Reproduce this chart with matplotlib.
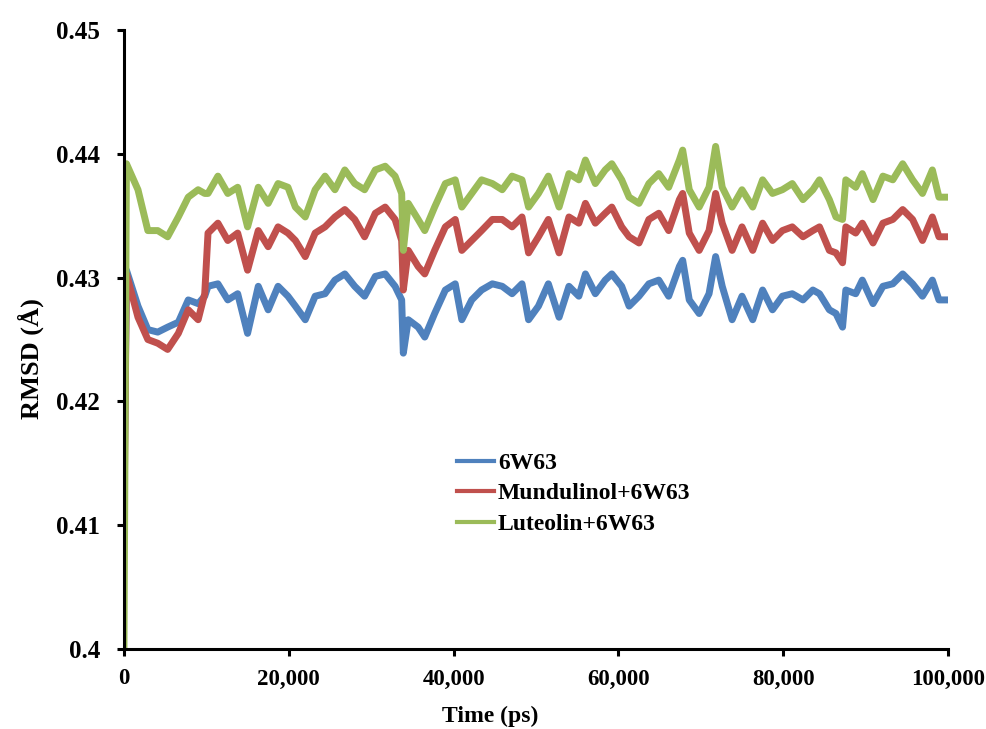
import matplotlib.pyplot as plt
from matplotlib.ticker import FuncFormatter

# Time axis (ps), shared by all three runs
time_ps = [0, 300, 1700, 2900, 4100, 5300, 6600, 7800, 9000, 9800, 10200, 11400, 12600,
           13800, 15000, 16300, 17500, 18700, 19900, 20800, 22000, 23200, 24400, 25600,
           26800, 28000, 29200, 30500, 31700, 32900, 33700, 33900, 34500, 35700, 36500,
           37700, 39000, 40200, 41000, 42200, 43400, 44700, 45900, 47100, 48300, 49100,
           50300, 51500, 52800, 54000, 55200, 56000, 57200, 58400, 59200, 60400, 61300,
           62500, 63700, 64900, 66100, 67400, 67800, 68600, 69800, 71000, 71800, 72600,
           73800, 75000, 76300, 77500, 78700, 79900, 81100, 82400, 83600, 84400, 85600,
           86400, 87200, 87600, 88800, 89600, 90900, 92100, 93300, 94500, 95700, 96900,
           98100, 98900, 100000]

rmsd_6w63 = [0.4120, 0.4306, 0.4277, 0.4258, 0.4256, 0.4260, 0.4264, 0.4282, 0.4279, 0.4285,
             0.4293, 0.4295, 0.4282, 0.4287, 0.4255, 0.4293, 0.4274, 0.4293, 0.4285, 0.4277,
             0.4266, 0.4285, 0.4287, 0.4298, 0.4303, 0.4293, 0.4285, 0.4301, 0.4303, 0.4293,
             0.4282, 0.4239, 0.4266, 0.4260, 0.4252, 0.4271, 0.4290, 0.4295, 0.4266, 0.4282,
             0.4290, 0.4295, 0.4293, 0.4287, 0.4295, 0.4266, 0.4277, 0.4295, 0.4268, 0.4293,
             0.4285, 0.4303, 0.4287, 0.4298, 0.4303, 0.4293, 0.4277, 0.4285, 0.4295, 0.4298,
             0.4285, 0.4309, 0.4314, 0.4282, 0.4271, 0.4287, 0.4317, 0.4293, 0.4266, 0.4285,
             0.4266, 0.4290, 0.4274, 0.4285, 0.4287, 0.4282, 0.4290, 0.4287, 0.4274, 0.4271,
             0.4260, 0.4290, 0.4287, 0.4298, 0.4279, 0.4293, 0.4295, 0.4303, 0.4295, 0.4285,
             0.4298, 0.4282, 0.4282]

rmsd_mundulinol = [0.4100, 0.4303, 0.4268, 0.4250, 0.4247, 0.4242, 0.4255, 0.4274, 0.4266, 0.4287,
                   0.4336, 0.4344, 0.4330, 0.4336, 0.4306, 0.4338, 0.4325, 0.4341, 0.4336, 0.4330,
                   0.4317, 0.4336, 0.4341, 0.4349, 0.4355, 0.4347, 0.4333, 0.4352, 0.4357, 0.4347,
                   0.4330, 0.4290, 0.4322, 0.4309, 0.4303, 0.4322, 0.4341, 0.4347, 0.4322, 0.4330,
                   0.4338, 0.4347, 0.4347, 0.4341, 0.4349, 0.4320, 0.4333, 0.4347, 0.4320, 0.4349,
                   0.4344, 0.4360, 0.4344, 0.4352, 0.4357, 0.4341, 0.4333, 0.4328, 0.4347, 0.4352,
                   0.4338, 0.4363, 0.4368, 0.4336, 0.4322, 0.4338, 0.4368, 0.4344, 0.4322, 0.4341,
                   0.4322, 0.4344, 0.4330, 0.4338, 0.4341, 0.4333, 0.4338, 0.4341, 0.4322, 0.4320,
                   0.4312, 0.4341, 0.4336, 0.4344, 0.4328, 0.4344, 0.4347, 0.4355, 0.4347, 0.4330,
                   0.4349, 0.4333, 0.4333]

rmsd_luteolin = [0.4000, 0.4392, 0.4371, 0.4338, 0.4338, 0.4333, 0.4349, 0.4365, 0.4371, 0.4368,
                 0.4368, 0.4382, 0.4368, 0.4373, 0.4341, 0.4373, 0.4360, 0.4376, 0.4373, 0.4357,
                 0.4349, 0.4371, 0.4382, 0.4371, 0.4387, 0.4376, 0.4371, 0.4387, 0.4390, 0.4382,
                 0.4368, 0.4322, 0.4360, 0.4347, 0.4338, 0.4357, 0.4376, 0.4379, 0.4357, 0.4368,
                 0.4379, 0.4376, 0.4371, 0.4382, 0.4379, 0.4357, 0.4368, 0.4382, 0.4357, 0.4384,
                 0.4379, 0.4395, 0.4376, 0.4387, 0.4392, 0.4379, 0.4365, 0.4360, 0.4376, 0.4384,
                 0.4373, 0.4395, 0.4403, 0.4371, 0.4357, 0.4373, 0.4406, 0.4373, 0.4357, 0.4371,
                 0.4357, 0.4379, 0.4368, 0.4371, 0.4376, 0.4363, 0.4371, 0.4379, 0.4363, 0.4349,
                 0.4347, 0.4379, 0.4373, 0.4384, 0.4363, 0.4382, 0.4379, 0.4392, 0.4379, 0.4368,
                 0.4387, 0.4365, 0.4365]

labels = ["6W63", "Mundulinol+6W63", "Luteolin+6W63"]
colors = ["#4F81BD", "#C0504D", "#9BBB59"]

plt.rcParams['font.family'] = ['Liberation Serif', 'DejaVu Serif']
plt.rcParams['font.weight'] = 'bold'

fig = plt.figure(figsize=(9.87, 7.29), dpi=100)
ax = fig.add_axes([0.1256, 0.1097, 0.8349, 0.8491])

for y, lab, c in zip([rmsd_6w63, rmsd_mundulinol, rmsd_luteolin], labels, colors):
    ax.plot(time_ps, y, color=c, lw=5, label=lab)

ax.set_xlim(0, 100000)
ax.set_ylim(0.40, 0.45)
ax.set_xticks([0, 20000, 40000, 60000, 80000, 100000])
ax.set_yticks([0.40, 0.41, 0.42, 0.43, 0.44, 0.45])
ax.xaxis.set_major_formatter(FuncFormatter(lambda v, p: f"{int(v):,}"))
ax.yaxis.set_major_formatter(FuncFormatter(lambda v, p: "0.4" if abs(v - 0.4) < 1e-9 else f"{v:.2f}"))

for s in ['top', 'right']:
    ax.spines[s].set_visible(False)
for s in ['left', 'bottom']:
    ax.spines[s].set_linewidth(2.2)
ax.tick_params(axis='both', direction='out', length=5, width=2.2)
ax.tick_params(axis='y', pad=12, labelsize=18)
ax.tick_params(axis='x', pad=9, labelsize=16.5)
for t in ax.get_xticklabels() + ax.get_yticklabels():
    t.set_fontweight('bold')

ax.set_xlabel("Time (ps)", fontsize=17, fontweight='bold')
ax.set_ylabel("RMSD (Å)", fontsize=19, fontweight='bold')
ax.xaxis.set_label_coords(0.444, -0.092)
ax.yaxis.set_label_coords(-0.097, 0.47)

leg = ax.legend(loc='upper left', bbox_to_anchor=(0.378, 0.352), frameon=False,
                prop={'size': 17, 'weight': 'bold'}, handlelength=1.6, handletextpad=0.15,
                labelspacing=0.38)
for h in leg.get_lines():
    h.set_linewidth(3)

fig.savefig("out.png", dpi=100)
